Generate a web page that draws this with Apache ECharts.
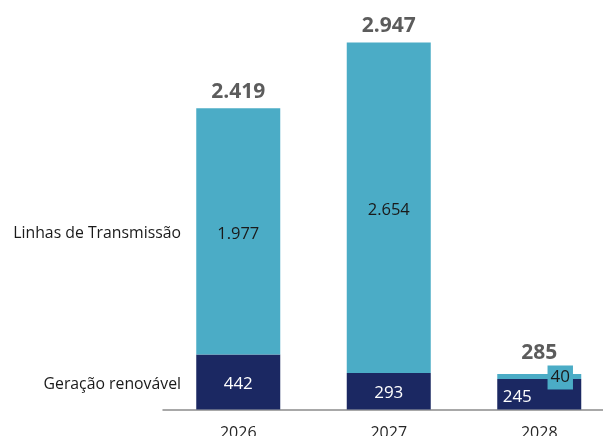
<!DOCTYPE html>
<html>
<head>
<meta charset="utf-8">
<script src="https://cdn.jsdelivr.net/npm/echarts@6/dist/echarts.min.js"></script>
<style>
html,body{margin:0;padding:0;background:#fff;}
#c{width:603px;height:436px;}
</style>
</head>
<body>
<div id="c"></div>
<script>
const categories = ['2026', '2027', '2028'];
const seriesNames = ['Geração renovável', 'Linhas de Transmissão'];
const geracao = [442, 293, 245];
const linhas = [1977, 2654, 40];
const totals = [2419, 2947, 285];
const totalLabels = ['2.419', '2.947', '285'];
const linhasLabels = ['1.977', '2.654', '40'];
const geracaoLabels = ['442', '293', '245'];

const FONT = '"Open Sans", "Noto Sans", sans-serif';
const NAVY = '#1b2862';
const AQUA = '#4bacc6';

const chart = echarts.init(document.getElementById('c'), null, {renderer: 'canvas'});

const option = {
  animation: false,
  backgroundColor: '#ffffff',
  grid: {left: 163, width: 451.5, top: 35.8, bottom: 26.5, containLabel: false, outerBoundsMode: 'none'},
  xAxis: {
    type: 'category',
    data: categories,
    axisLine: {lineStyle: {color: '#8c8c8c', width: 1.5}},
    axisTick: {show: false},
    axisLabel: {color: '#262626', fontSize: 16, fontFamily: FONT, margin: 16}
  },
  yAxis: {
    type: 'value',
    min: 0, max: 3000,
    show: false,
    splitLine: {show: false}
  },
  series: [
    {
      name: seriesNames[0],
      type: 'bar',
      stack: 'total',
      barWidth: 84,
      itemStyle: {color: NAVY},
      data: geracao.map((v, i) => {
        const d = {value: v};
        if (i === 2) d.label = {offset: [-22, 3]};
        return d;
      }),
      label: {
        show: true, position: 'inside', color: '#ffffff', fontSize: 17, fontFamily: FONT, offset: [0, 2],
        formatter: p => geracaoLabels[p.dataIndex]
      }
    },
    {
      name: seriesNames[1],
      type: 'bar',
      stack: 'total',
      barWidth: 84,
      itemStyle: {color: AQUA},
      data: linhas.map((v, i) => {
        const d = {value: v};
        if (i === 2) d.label = {
          offset: [21, 1], backgroundColor: AQUA, padding: [4, 3, 3, 3], fontSize: 17, color: '#1a1a1a'
        };
        return d;
      }),
      label: {
        show: true, position: 'inside', color: '#1a1a1a', fontSize: 16.5, fontFamily: FONT, offset: [0, 3],
        formatter: p => linhasLabels[p.dataIndex]
      }
    },
    {
      name: 'Total',
      type: 'scatter',
      symbolSize: 0,
      silent: true,
      data: totals.map((v, i) => {
        const d = {value: v};
        if (i === 2) d.label = {distance: 10};
        return d;
      }),
      label: {
        show: true, position: 'top', distance: 6, color: '#333333', fontSize: 21, fontWeight: 'bold', fontFamily: FONT,
        formatter: p => totalLabels[p.dataIndex]
      }
    }
  ]
};
chart.setOption(option);

// Row labels placed at the middle of the first column's segments
const yL = chart.convertToPixel({gridIndex: 0}, [0, geracao[0] + linhas[0] / 2])[1];
const yG = chart.convertToPixel({gridIndex: 0}, [0, geracao[0] / 2])[1];
chart.setOption({
  graphic: [
    {type: 'text', right: 603 - 181, top: yL - 6,
     style: {text: seriesNames[1], fill: '#1a1a1a', font: '15.8px ' + FONT, textAlign: 'right'}},
    {type: 'text', right: 603 - 181, top: yG - 5,
     style: {text: seriesNames[0], fill: '#1a1a1a', font: '15.8px ' + FONT, textAlign: 'right'}}
  ]
});
</script>
</body>
</html>
